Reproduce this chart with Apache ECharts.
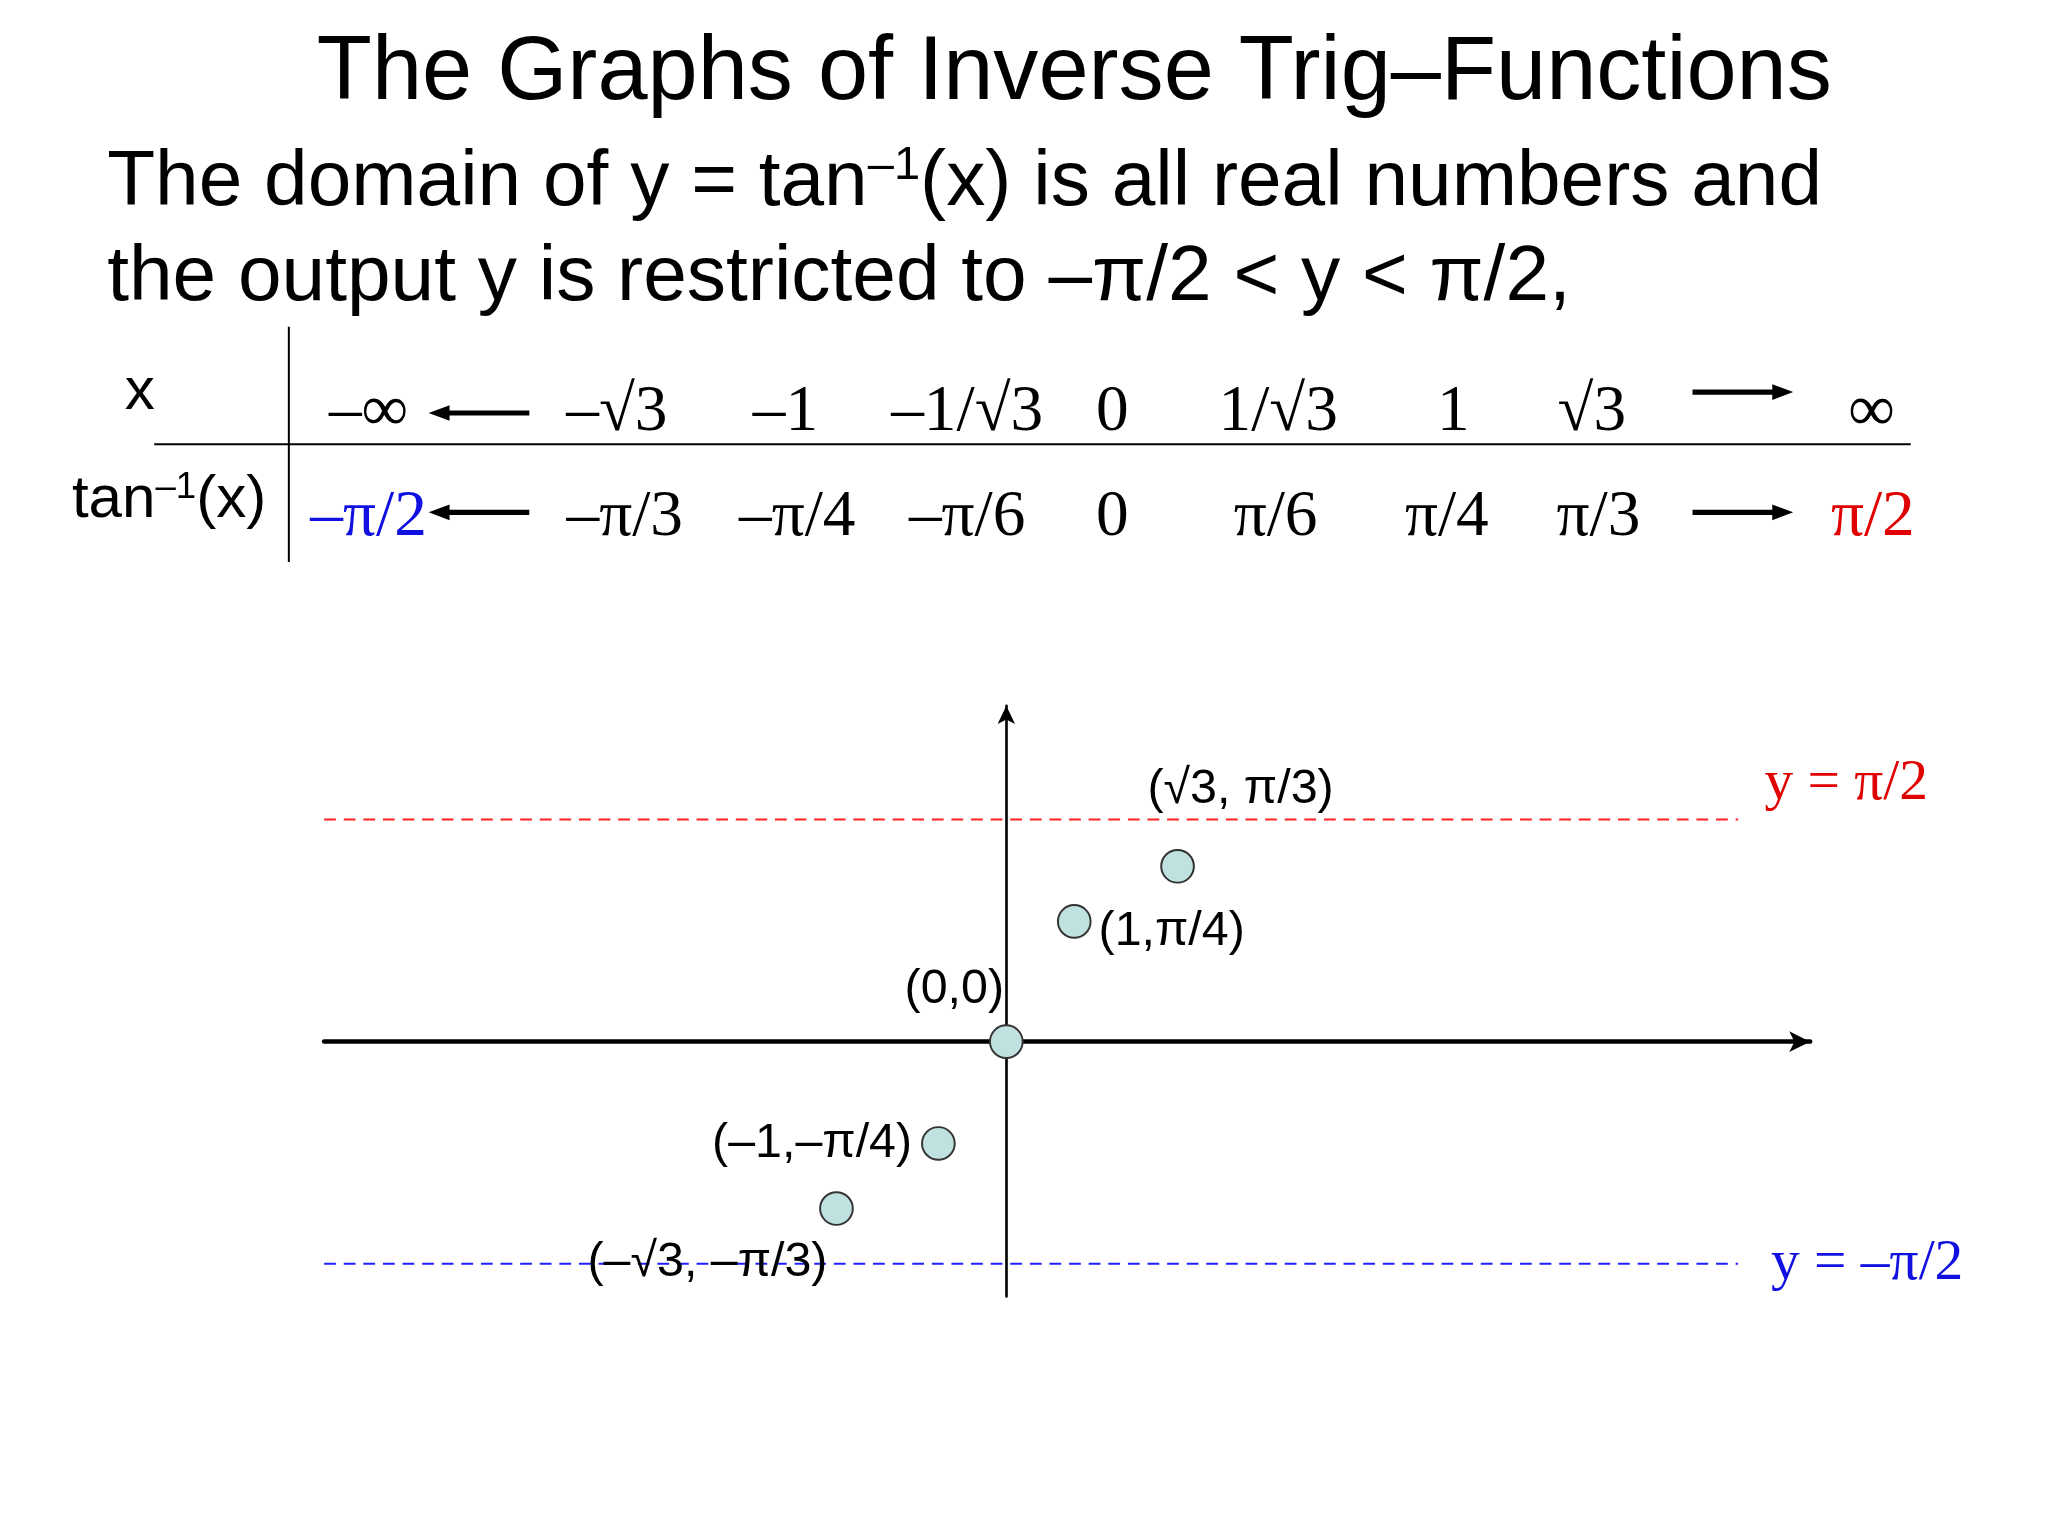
<!DOCTYPE html>
<html><head><meta charset="utf-8">
<script src="https://cdn.jsdelivr.net/npm/echarts@6/dist/echarts.min.js"></script>
<style>html,body{margin:0;padding:0;background:#fff}#c{width:2048px;height:1536px}</style>
</head><body><div id="c"></div>
<script>
// ---- data ----
const titleText = "The Graphs of Inverse Trig–Functions";
const line1a = "The domain of y = tan", line1b = "(x) is all real numbers and";
const line2 = "the output y is restricted to –π/2 < y < π/2,";
const xRow = ["–∞", "–√3", "–1", "–1/√3", "0", "1/√3", "1", "√3", "∞"];
const tanRow = ["–π/2", "–π/3", "–π/4", "–π/6", "0", "π/6", "π/4", "π/3", "π/2"];
const pointNames = ["(–√3, –π/3)", "(–1,–π/4)", "(0,0)", "(1,π/4)", "(√3, π/3)"];
const pointX = [-2.5, -1, 0, 1, 2.52];      // as drawn (schematic)
const pointY = [-1.18, -0.72, 0, 0.85, 1.24]; // as drawn (schematic)
const asymptoteY = [1.5708, -1.5708];
const asymptoteLabels = ["y = π/2", "y = –π/2"];

// ---- layout ----
const S = 2048 / 1567;
const P = v => v * S;
const xCols = [282, 472, 601, 740, 851, 978, 1112, 1218, 1432];
const tCols = [282, 478, 610, 740, 851, 976, 1107, 1223, 1433];
const serif = '"Liberation Serif","DejaVu Serif",serif';
const sans = '"Liberation Sans",Arial,sans-serif';

const g = [];
g.push({type:'text', style:{text:titleText, x:P(822), y:P(57), font:`${P(69)}px ${sans}`, fill:'#000', textAlign:'center', textVerticalAlign:'middle'}});
const supRich = {b:{fontSize:P(60), fontFamily:sans, color:'#000'}, s:{fontSize:P(36), fontFamily:sans, color:'#000', verticalAlign:'top', padding:[0,0,P(26),0]}};
g.push({type:'text', style:{text:`{b|${line1a}}{s|–1}{b|${line1b}}`, rich:supRich, x:P(82), y:P(140), fill:'#000', textVerticalAlign:'middle'}});
g.push({type:'text', style:{text:line2, x:P(82), y:P(213), font:`${P(60)}px ${sans}`, fill:'#000', textVerticalAlign:'middle'}});
// table lines
g.push({type:'line', shape:{x1:P(221),y1:P(250),x2:P(221),y2:P(430)}, style:{stroke:'#000',lineWidth:2}});
g.push({type:'line', shape:{x1:P(118),y1:P(340),x2:P(1462),y2:P(340)}, style:{stroke:'#000',lineWidth:2}});
g.push({type:'text', style:{text:'x', x:P(107), y:P(300), font:`${P(46)}px ${sans}`, fill:'#000', textAlign:'center', textVerticalAlign:'middle'}});
const supRich2 = {b:{fontSize:P(46), fontFamily:sans, color:'#000'}, s:{fontSize:P(28), fontFamily:sans, color:'#000', verticalAlign:'top', padding:[0,0,P(20),0]}};
g.push({type:'text', style:{text:'{b|tan}{s|–1}{b|(x)}', rich:supRich2, x:P(55), y:P(383), textVerticalAlign:'middle'}});
xRow.forEach((t,i)=>g.push({type:'text', style:{text:t, x:P(xCols[i]), y:P(316), font:`${P(50)}px ${serif}`, fill:'#000', textAlign:'center', textVerticalAlign:'middle'}}));
tanRow.forEach((t,i)=>g.push({type:'text', style:{text:t, x:P(tCols[i]), y:P(396), font:`${P(50)}px ${serif}`, fill: i===0?'#1010e0':(i===8?'#e00000':'#000'), textAlign:'center', textVerticalAlign:'middle'}}));
function arrow(x1,x2,y){
  const dir = Math.sign(x2-x1);
  g.push({type:'line', shape:{x1:P(x1),y1:P(y),x2:P(x2-dir*10),y2:P(y)}, style:{stroke:'#000',lineWidth:P(4)}});
  g.push({type:'polygon', shape:{points:[[P(x2),P(y)],[P(x2-dir*16),P(y-6)],[P(x2-dir*16),P(y+6)]]}, style:{fill:'#000'}});
}
arrow(405,328,316); arrow(405,328,392); arrow(1295,1372,300); arrow(1295,1372,392);
g.push({type:'text', style:{text:asymptoteLabels[0], x:P(1350), y:P(600), font:`${P(44)}px ${serif}`, fill:'#e00000', textVerticalAlign:'middle'}});
g.push({type:'text', style:{text:asymptoteLabels[1], x:P(1355), y:P(967), font:`${P(44)}px ${serif}`, fill:'#1010e0', textVerticalAlign:'middle'}});

const labelCfg = [
  {position:'bottom', offset:[-129, 8]},
  {position:'left', offset:[-4, 0]},
  {position:'top', offset:[-52, -6]},
  {position:'right', offset:[2, 10]},
  {position:'top', offset:[63, -30]}
];
const pts = pointX.map((x,i)=>({value:[x,pointY[i]], label:Object.assign({show:true, formatter:pointNames[i], fontSize:P(37), fontFamily:sans, color:'#000', textBorderWidth:0}, labelCfg[i])}));

const chart = echarts.init(document.getElementById('c'));
chart.setOption({
  animation:false,
  grid:{left:P(248), top:P(540), width:P(1385-248), height:P(992-540)},
  xAxis:{type:'value', min:-10.04, max:11.83, axisLine:{onZero:true, lineStyle:{color:'#000', width:P(3.5)}, symbol:['none','arrow'], symbolSize:[P(12),P(16)]}, axisTick:{show:false}, axisLabel:{show:false}, splitLine:{show:false}},
  yAxis:{type:'value', min:-1.802, max:2.375, axisLine:{onZero:true, lineStyle:{color:'#000', width:P(2)}, symbol:['none','arrow'], symbolSize:[P(10),P(14)]}, axisTick:{show:false}, axisLabel:{show:false}, splitLine:{show:false}},
  series:[
    {type:'line', data:[[-10.04,asymptoteY[0]],[10.77,asymptoteY[0]]], symbol:'none', lineStyle:{color:'#ff2020', type:[P(9),P(6)], width:P(1.5)}},
    {type:'line', data:[[-10.04,asymptoteY[1]],[10.77,asymptoteY[1]]], symbol:'none', lineStyle:{color:'#2020ff', type:[P(9),P(6)], width:P(1.5)}},
    {type:'scatter', data:pts, symbolSize:P(25), itemStyle:{color:'#bfe2e0', borderColor:'#333', borderWidth:P(1.5), opacity:1}, z:10, zlevel:1}
  ],
  graphic:g
});
</script></body></html>
